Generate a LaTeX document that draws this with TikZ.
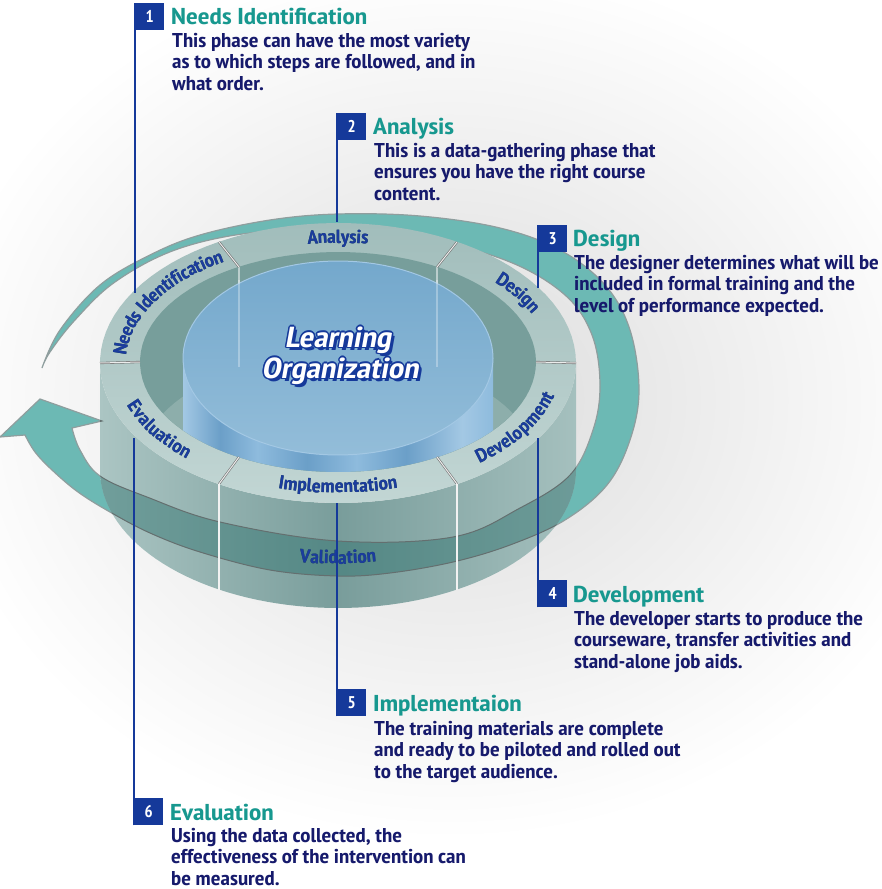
\documentclass[tikz,border=0pt]{standalone}
\usepackage{fontspec}
\setmainfont{PT Sans Narrow}
\newfontfamily\bodyfam[FakeStretch=1.14]{PT Sans Narrow}
\newfontfamily\titlefam[FakeStretch=1.2]{PT Sans Narrow}
\newfontfamily\ringfam[FakeStretch=1.1]{PT Sans Narrow}
\newfontfamily\slfont[FakeSlant=0.18, FakeStretch=1.18]{PT Sans Narrow}
\usetikzlibrary{decorations.text}

\definecolor{navy}{HTML}{15399A}
\definecolor{titleteal}{HTML}{17988F}
\definecolor{bodyblue}{HTML}{161A6C}
\definecolor{labelblue}{HTML}{1B3C9E}
\definecolor{arrowteal}{HTML}{6CB9B4}
\definecolor{arrowedge}{HTML}{8F9E9E}
\definecolor{bandteal}{HTML}{2A6F6B}
\definecolor{ringtopA}{HTML}{A1BDBB}
\definecolor{ringtopB}{HTML}{C2D6D4}
\definecolor{wallL}{HTML}{ABC5C3}
\definecolor{wallM}{HTML}{799D9B}
\definecolor{wallR}{HTML}{A5C0BE}
\definecolor{innerwall}{HTML}{779E9B}
\definecolor{floorgray}{HTML}{8DAEAB}
\definecolor{cylA}{HTML}{A3C8E4}
\definecolor{cylB}{HTML}{6B9FC8}
\definecolor{cylC}{HTML}{8EBBDD}
\definecolor{cyltopA}{HTML}{74A8CC}
\definecolor{cyltopB}{HTML}{93BDD9}

\pgfdeclarehorizontalshading{cylside}{100bp}{color(0bp)=(cylA); color(25bp)=(cylA); color(31bp)=(cylB); color(37bp)=(cylC); color(45bp)=(cylB); color(53bp)=(cylC); color(61bp)=(cylB); color(70bp)=(cylA); color(75bp)=(cylC); color(100bp)=(cylC)}

\newcommand\ringfont{\ringfam\bfseries\fontsize{19}{19}\selectfont}
\newcommand\cyclearrow{plot[smooth, tension=.6] coordinates {(42,368) (60,330) (100,285) (150,255) (200,235) (270,220) (338,214) (420,216) (500,228) (560,250) (605,285) (630,330) (639,390) (630,440) (607,485) (565,520) (510,545) (453,562) (390,573) (338,576) (270,570) (200,552) (150,533) (110,512) (78,492) (52,470) (35,452) (25,435)} -- (0,437) -- (40,399) -- (102,421) -- plot[smooth, tension=.6] coordinates {(72,428) (80,450) (100,476) (147,497) (220,522) (338,541) (453,537) (520,508) (570,475) (593,430) (600,385) (592,335) (565,295) (510,262) (430,240) (338,230) (250,233) (175,250) (115,282) (75,320) (50,352) (42,368)} -- cycle}
\newcommand\wallfront{plot[domain=180:360, samples=73] ({338+238*cos(\x)},{363-140*sin(\x)}) -- plot[domain=360:180, samples=73] ({338+238*cos(\x)},{470-138*sin(\x)}) -- cycle}
\newcommand\holeedge{plot[domain=0:360, samples=100] ({338+198*cos(\x)},{362-110*sin(\x)}) -- cycle}

\tikzset{
  numbox/.style={fill=navy, text=white, font=\bfseries\fontsize{17}{17}\selectfont, minimum width=29pt, minimum height=27pt, inner sep=0pt, anchor=north west},
  phase/.style={text=titleteal, font=\titlefam\bfseries\fontsize{23}{23}\selectfont, anchor=base west, inner sep=0pt},
  blurb/.style={text=bodyblue, font=\bodyfam\bfseries\fontsize{20}{21.5}\selectfont, anchor=north west, align=left, inner sep=0pt},
  callout/.style={navy, line width=1.6pt},
  arrowband/.style={fill=arrowteal, draw=arrowedge, line width=1.2pt},
  divider/.style={draw=black!55, double=white!85!gray, double distance=1pt, line width=.6pt},
  seam/.style={draw=black!30, double=white!90!gray, double distance=1.2pt, line width=.5pt},
  ringlabel/.style={decorate, decoration={text along path, text align=center, raise=-6pt, text color=labelblue, text={|\ringfont|#1}}},
  ringshadow/.style={transform canvas={shift={(1.3pt,-1.3pt)}}, decorate, decoration={text along path, text align=center, raise=-6pt, text color=black!40!bandteal, text={|\ringfont|#1}}},
  centre/.style={font=\slfont\bfseries\fontsize{29}{29}\selectfont, inner sep=0pt},
}

\begin{document}
\begin{tikzpicture}[x=1pt,y=-1pt]
\useasboundingbox (0,0) rectangle (882,889);
\shade[inner color=black!14, outer color=white] (450,400) ellipse [x radius=520pt, y radius=440pt];

\path[arrowband] \cyclearrow;

\shade[left color=wallL, right color=wallR, middle color=wallM] \wallfront;
\shade[top color=ringtopA, bottom color=ringtopB] plot[domain=0:360, samples=100] ({338+238*cos(\x)},{363-140*sin(\x)}) -- cycle;
\fill[innerwall] \holeedge;
\begin{scope}
  \clip \holeedge;
  \fill[floorgray] plot[domain=0:360, samples=100] ({338+198*cos(\x)},{465-110*sin(\x)}) -- cycle;
  \draw[white, opacity=.5, line width=1.5pt] (239,267) -- (239,367);
  \draw[white, opacity=.5, line width=1.5pt] (437,267) -- (437,367);
  \shade[shading=cylside] (183,358) rectangle (493,480);
  \shade[top color=cyltopA, bottom color=cyltopB] plot[domain=0:360, samples=100] ({338+155*cos(\x)},{358-97*sin(\x)}) -- cycle;
  \draw[cylA, line width=1pt] plot[domain=0:360, samples=100] ({338+155*cos(\x)},{358-97*sin(\x)}) -- cycle;
  \draw[white, opacity=.3, line width=1.5pt] (239,280) -- (239,367);
  \draw[white, opacity=.3, line width=1.5pt] (437,280) -- (437,367);
\end{scope}

\begin{scope}
  \clip \wallfront;
  \fill[bandteal, opacity=.45] \cyclearrow;
  \draw[arrowedge!70!black, line width=1pt] \cyclearrow;
\end{scope}

\draw[divider] (536,362) -- (576,363);
\draw[divider] (437,267) -- (457,242);
\draw[divider] (239,267) -- (219,242);
\draw[divider] (140,362) -- (100,363);
\draw[divider] (239,457) -- (219,484);
\draw[divider] (437,457) -- (457,484);
\draw[seam] (219,484) -- (219,590);
\draw[seam] (457,484) -- (457,590);

\path[ringshadow=Needs Identification] plot[domain=180:120, samples=40] ({338+218*cos(\x)},{362-125*sin(\x)});
\path[ringshadow=Analysis] plot[domain=120:60, samples=40] ({338+218*cos(\x)},{362-125*sin(\x)});
\path[ringshadow=Design] plot[domain=60:0, samples=40] ({338+218*cos(\x)},{362-125*sin(\x)});
\path[ringshadow=Evaluation] plot[domain=180:240, samples=40] ({338+218*cos(\x)},{362-125*sin(\x)});
\path[ringshadow=Implementation] plot[domain=240:300, samples=40] ({338+218*cos(\x)},{362-125*sin(\x)});
\path[ringshadow=Development] plot[domain=300:360, samples=40] ({338+218*cos(\x)},{362-125*sin(\x)});
\path[ringshadow=Validation] plot[domain=245:295, samples=40] ({338+238*cos(\x)},{418-140*sin(\x)});

\path[ringlabel=Needs Identification] plot[domain=180:120, samples=40] ({338+218*cos(\x)},{362-125*sin(\x)});
\path[ringlabel=Analysis] plot[domain=120:60, samples=40] ({338+218*cos(\x)},{362-125*sin(\x)});
\path[ringlabel=Design] plot[domain=60:0, samples=40] ({338+218*cos(\x)},{362-125*sin(\x)});
\path[ringlabel=Evaluation] plot[domain=180:240, samples=40] ({338+218*cos(\x)},{362-125*sin(\x)});
\path[ringlabel=Implementation] plot[domain=240:300, samples=40] ({338+218*cos(\x)},{362-125*sin(\x)});
\path[ringlabel=Development] plot[domain=300:360, samples=40] ({338+218*cos(\x)},{362-125*sin(\x)});
\path[ringlabel=Validation] plot[domain=245:295, samples=40] ({338+238*cos(\x)},{418-140*sin(\x)});

\foreach \i/\dx/\dy in {1/-1.6/0,2/1.6/0,3/0/-1.6,4/0/1.6,5/-1.2/-1.2,6/1.2/1.2,7/-1.2/1.2,8/1.2/-1.2,9/2.8/2.8} {
  \node[centre, text=navy] (lrn\i) at (338+\dx,340+\dy) {Learning};
  \node[centre, text=navy] (org\i) at (340+\dx,371+\dy) {Organization};
}
\node[centre, text=white] (lrn) at (338,340) {Learning};
\node[centre, text=white] (org) at (340,371) {Organization};

\node[numbox] (box1) at (135,3) {1};
\node[phase] (ttl1) at (171,24) {Needs Identification};
\node[blurb] (txt1) at (172,33) {This phase can have the most variety\\as to which steps are followed, and in\\what order.};
\coordinate (pin1) at (135,293);
\draw[callout] (box1.north west) -- (pin1);

\node[numbox] (box2) at (337,113) {2};
\node[phase] (ttl2) at (373,134) {Analysis};
\node[blurb] (txt2) at (374,143) {This is a data-gathering phase that\\ensures you have the right course\\content.};
\coordinate (pin2) at (337,222);
\draw[callout] (box2.north west) -- (pin2);

\node[numbox] (box3) at (538,225) {3};
\node[phase] (ttl3) at (573,246) {Design};
\node[blurb] (txt3) at (574,255) {The designer determines what will be\\included in formal training and the\\level of performance expected.};
\coordinate (pin3) at (538,288);
\draw[callout] (box3.north west) -- (pin3);

\node[numbox] (box4) at (538,580) {4};
\node[phase] (ttl4) at (573,602) {Development};
\node[blurb] (txt4) at (574,611) {The developer starts to produce the\\courseware, transfer activities and\\stand-alone job aids.};
\coordinate (pin4) at (538,438);
\draw[callout] (box4.south west) -- (pin4);

\node[numbox] (box5) at (337,689) {5};
\node[phase] (ttl5) at (373,711) {Implementaion};
\node[blurb] (txt5) at (374,721) {The training materials are complete\\and ready to be piloted and rolled out\\to the target audience.};
\coordinate (pin5) at (337,503);
\draw[callout] (box5.south west) -- (pin5);

\node[numbox] (box6) at (134,798) {6};
\node[phase] (ttl6) at (170,820) {Evaluation};
\node[blurb] (txt6) at (171,828) {Using the data collected, the\\effectiveness of the intervention can\\be measured.};
\coordinate (pin6) at (134,438);
\draw[callout] (box6.south west) -- (pin6);
\end{tikzpicture}
\end{document}
